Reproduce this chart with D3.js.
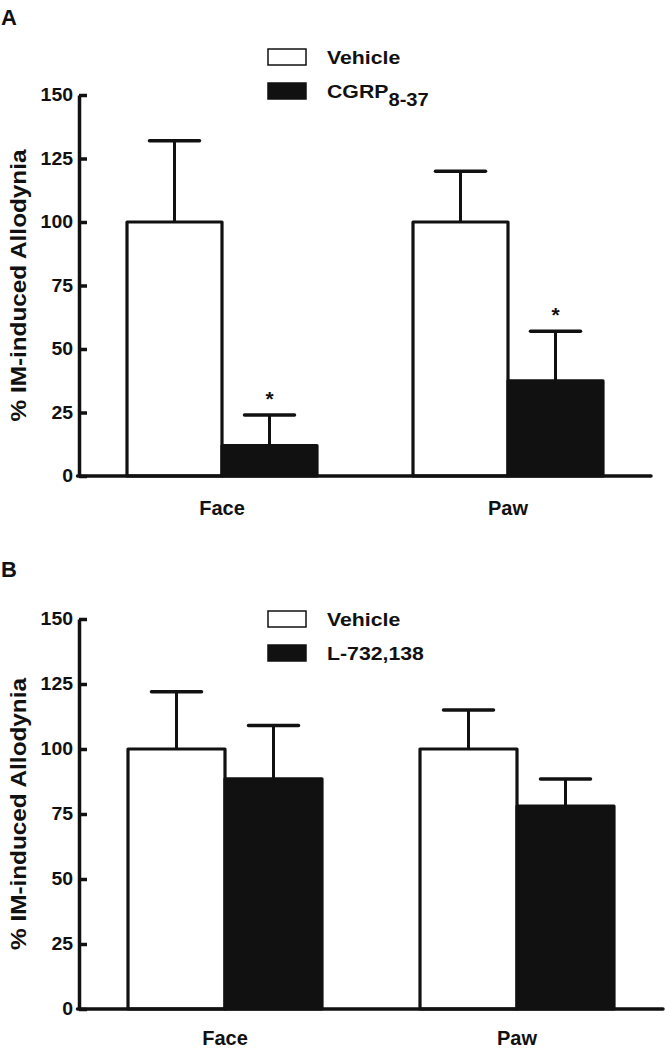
<!DOCTYPE html>
<html><head><meta charset="utf-8">
<script src="https://cdn.jsdelivr.net/npm/d3@7"></script>
<style>
html,body{margin:0;padding:0;background:#fff;}
svg{display:block;font-family:"Liberation Sans",Arial,sans-serif;font-weight:bold;}
</style></head>
<body>
<svg id="chart" width="665" height="1050"></svg>
<script>
// ---- data ----
const categories = ["Face", "Paw"];
const yTicks = [0, 25, 50, 75, 100, 125, 150];
const yTitle = "% IM-induced Allodynia";

// Panel A
const seriesA = ["Vehicle", "CGRP8-37"];
const vehicleA = [100, 100];
const vehicleSemA = [32, 20];
const cgrpA = [12, 37.5];
const cgrpSemA = [12, 19.5];
const sigA = [false, true]; // significance marks per series (applied to both categories)

// Panel B
const seriesB = ["Vehicle", "L-732,138"];
const vehicleB = [100, 100];
const vehicleSemB = [22, 15];
const lB = [88.5, 78];
const lSemB = [20.5, 10.5];
const sigB = [false, false];

const svg = d3.select("#chart");
const ink = "#111";

function drawPanel(o) {
  const g = svg.append("g");
  const y = d3.scaleLinear().domain([0, 150]).range([o.y0, o.y1]);
  const x = d3.scalePoint().domain(categories).range([o.xl, o.xr]).padding(0.5);
  const xs = d3.scaleBand().domain(o.series).range([-o.bw, o.bw]).padding(0);

  const rows = [];
  categories.forEach((c, i) => {
    o.series.forEach((s, j) => {
      rows.push({cat: c, ser: s, j, mean: o.means[j][i], sem: o.sems[j][i], sig: o.sig[j]});
    });
  });
  const cx = d => x(d.cat) + xs(d.ser) + xs.bandwidth() / 2;

  // bars
  g.selectAll("rect.bar").data(rows).join("rect")
    .attr("class", "bar")
    .attr("x", d => x(d.cat) + xs(d.ser))
    .attr("width", xs.bandwidth())
    .attr("y", d => y(d.mean))
    .attr("height", d => y(0) - y(d.mean))
    .attr("fill", d => d.j === 0 ? "#fff" : ink)
    .attr("stroke", ink)
    .attr("stroke-width", 3.2)
    .attr("stroke-linejoin", "round");

  // error bars
  const eb = g.selectAll("g.err").data(rows).join("g").attr("class", "err");
  eb.append("line")
    .attr("x1", cx).attr("x2", cx)
    .attr("y1", d => y(d.mean))
    .attr("y2", d => y(d.mean + d.sem))
    .attr("stroke", ink).attr("stroke-width", 3);
  eb.append("line")
    .attr("x1", d => cx(d) - 25)
    .attr("x2", d => cx(d) + 25)
    .attr("y1", d => y(d.mean + d.sem))
    .attr("y2", d => y(d.mean + d.sem))
    .attr("stroke", ink).attr("stroke-width", 3.5).attr("stroke-linecap", "round");

  // significance
  g.selectAll("text.sig").data(rows.filter(d => d.sig)).join("text")
    .attr("class", "sig")
    .attr("x", cx)
    .attr("y", d => y(d.mean + d.sem) - 9)
    .attr("text-anchor", "middle")
    .attr("font-size", 21)
    .attr("fill", ink)
    .text("*");

  // y axis
  const ya = g.append("g").attr("transform", `translate(${o.xl},0)`)
    .call(d3.axisLeft(y).tickValues(yTicks).tickSizeInner(-8).tickSizeOuter(0).tickPadding(6));
  ya.select(".domain").attr("stroke", ink).attr("stroke-width", 3.5);
  ya.selectAll(".tick line").attr("stroke", ink).attr("stroke-width", 3.5);
  ya.selectAll(".tick text").attr("font-size", 18).attr("font-family", null)
    .attr("fill", ink).attr("font-weight", "bold")
    .attr("transform", "scale(1.08,1)").attr("x", -6 / 1.08);

  // x axis line
  g.append("line")
    .attr("x1", o.xl - 1.5).attr("x2", o.xr)
    .attr("y1", y(0)).attr("y2", y(0))
    .attr("stroke", ink).attr("stroke-width", 3.5).attr("stroke-linecap", "round");

  // category labels
  g.selectAll("text.cat").data(categories).join("text")
    .attr("class", "cat")
    .attr("x", d => x(d)).attr("y", y(0) + o.catDy)
    .attr("text-anchor", "middle").attr("font-size", 20).attr("fill", ink)
    .text(d => d);

  // y title
  g.append("text")
    .attr("transform", `translate(26,${(y(0) + y(150)) / 2}) rotate(-90)`)
    .attr("text-anchor", "middle").attr("font-size", 22).attr("fill", ink)
    .attr("textLength", 272).attr("lengthAdjust", "spacingAndGlyphs")
    .text(yTitle);

  // panel letter
  g.append("text").attr("x", 1).attr("y", o.letterY)
    .attr("font-size", 22).attr("fill", ink).text(o.letter);

  // legend
  const lg = g.append("g");
  o.series.forEach((s, j) => {
    const ly = o.legY + j * 34;
    lg.append("rect").attr("x", 268).attr("y", ly).attr("width", 38).attr("height", 16)
      .attr("fill", j === 0 ? "#fff" : ink).attr("stroke", ink).attr("stroke-width", 1.5);
    const t = lg.append("text")
      .attr("transform", `translate(327,${ly + 15}) scale(1.12,1)`)
      .attr("font-size", 19).attr("fill", ink);
    const m = s.match(/^(CGRP)(8-37)$/);
    if (m) {
      t.append("tspan").text(m[1]);
      t.append("tspan").attr("dy", 8).attr("font-size", 18).text(m[2]);
    } else {
      t.text(s);
    }
  });
}

drawPanel({
  letter: "A", letterY: 25, series: seriesA,
  means: [vehicleA, cgrpA], sems: [vehicleSemA, cgrpSemA], sig: sigA,
  y0: 476, y1: 95, xl: 79, xr: 651, bw: 95, legY: 49, catDy: 39
});
drawPanel({
  letter: "B", letterY: 577, series: seriesB,
  means: [vehicleB, lB], sems: [vehicleSemB, lSemB], sig: sigB,
  y0: 1009, y1: 619, xl: 79, xr: 663, bw: 97, legY: 611, catDy: 36
});
</script>
</body></html>
